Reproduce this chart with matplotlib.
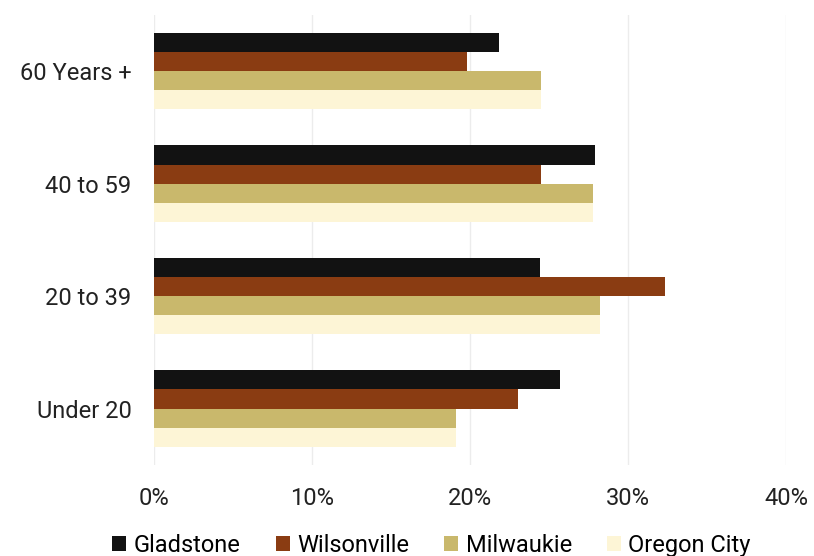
import matplotlib.pyplot as plt
import numpy as np
from matplotlib.ticker import FuncFormatter
from matplotlib.patches import Patch

categories = ["Under 20", "20 to 39", "40 to 59", "60 Years +"]
series_names = ["Gladstone", "Wilsonville", "Milwaukie", "Oregon City"]
gladstone = [25.7, 24.4, 27.9, 21.8]
wilsonville = [23.0, 32.3, 24.5, 19.8]
milwaukie = [19.1, 28.2, 27.8, 24.5]
oregon_city = [19.1, 28.2, 27.8, 24.5]
x_ticks = [0, 10, 20, 30, 40]

colors = ["#121212", "#8a3c12", "#c9b86c", "#fdf5d6"]
series = [gladstone, wilsonville, milwaukie, oregon_city]

plt.rcParams['font.family'] = ['Roboto', 'DejaVu Sans']

fig = plt.figure(figsize=(8.14, 5.56), dpi=100)
ax = fig.add_axes([0.189, 0.164, 0.777, 0.809])

h = 0.17
y = np.arange(len(categories))
offsets = [1.5 * h, 0.5 * h, -0.5 * h, -1.5 * h]
for vals, col, off, name in zip(series, colors, offsets, series_names):
    ax.barh(y + off, vals, height=h, color=col, label=name, zorder=2)

ax.set_xlim(0, 40)
ax.set_ylim(-0.5, 3.5)
ax.set_xticks(x_ticks)
ax.xaxis.set_major_formatter(FuncFormatter(lambda v, p: f"{v:.0f}%"))
ax.set_yticks(y)
ax.set_yticklabels(categories)
ax.tick_params(axis='both', length=0, labelsize=17, colors="#222222")
ax.tick_params(axis='x', pad=16)
ax.tick_params(axis='y', pad=16)
ax.grid(axis='x', color="#ececec", linewidth=1, zorder=0)
for s in ax.spines.values():
    s.set_visible(False)

handles = [Patch(facecolor=c, edgecolor='none', label=n) for c, n in zip(colors, series_names)]
fig.legend(handles=handles, loc='lower center', bbox_to_anchor=(0.53, -0.04), ncol=4,
           frameon=False, fontsize=17, handlelength=0.6, handleheight=0.6,
           handletextpad=0.3, columnspacing=1.5)

fig.savefig("out.png", dpi=100)
